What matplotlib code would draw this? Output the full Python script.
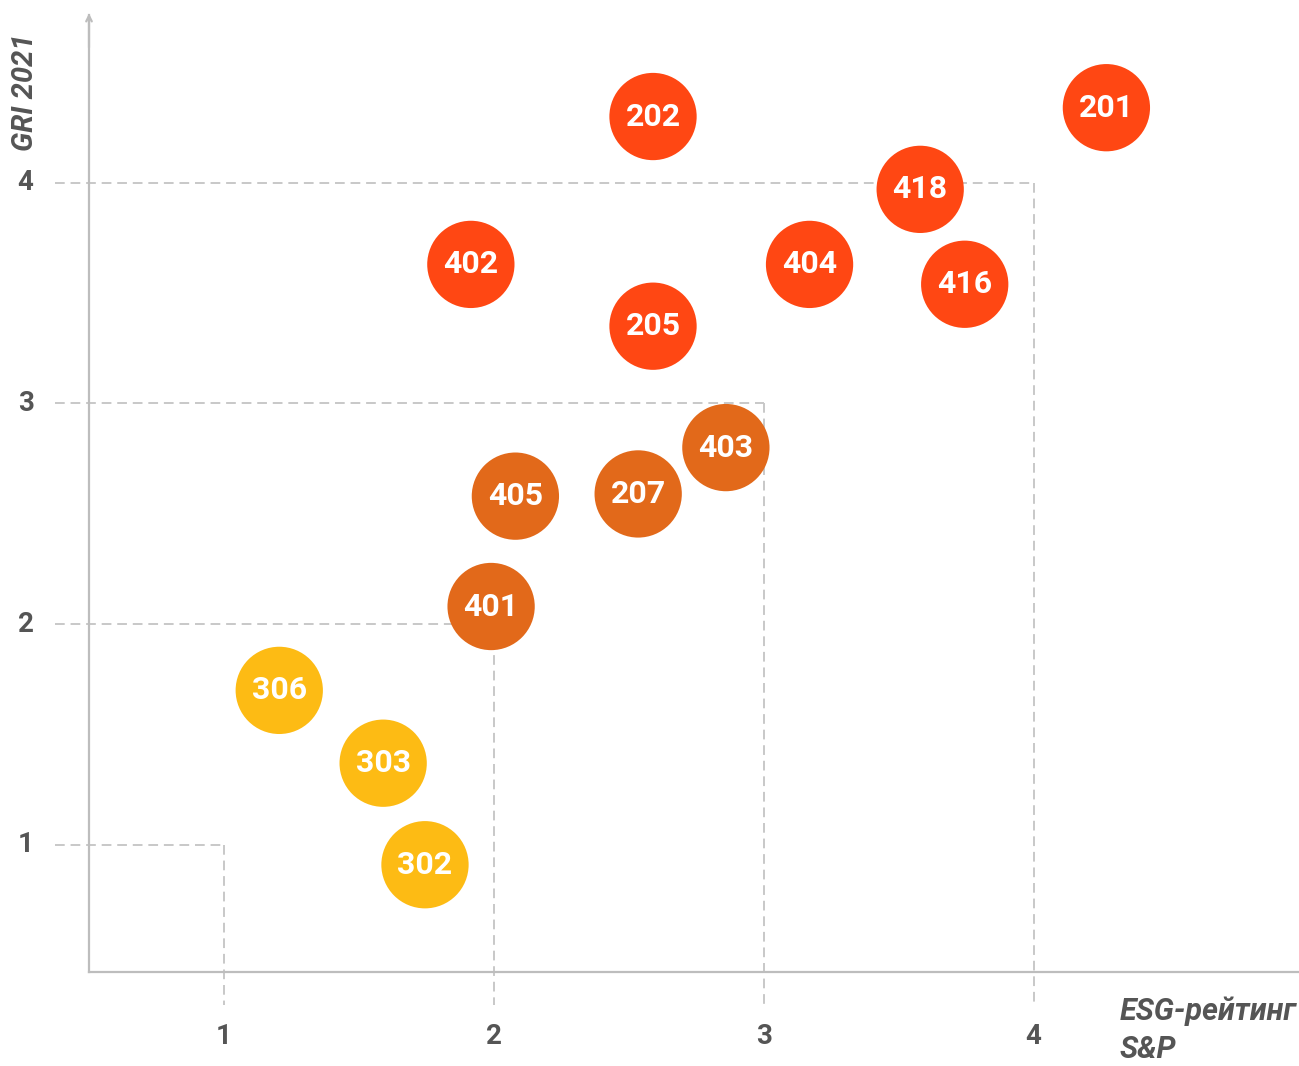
import matplotlib
matplotlib.use("Agg")
import matplotlib.pyplot as plt

plt.rcParams['font.family'] = ['Roboto', 'DejaVu Sans']

# data
labels = ["202", "201", "418", "402", "404", "416", "205",
          "403", "405", "207", "401",
          "306", "303", "302"]
esg = [2.59, 4.27, 3.58, 1.915, 3.17, 3.745, 2.59,
       2.86, 2.08, 2.535, 1.99,
       1.205, 1.59, 1.745]
gri = [4.30, 4.34, 3.97, 3.63, 3.63, 3.54, 3.35,
       2.80, 2.58, 2.59, 2.08,
       1.70, 1.37, 0.91]
groups = ["high"] * 7 + ["mid"] * 4 + ["low"] * 3
group_colors = {"high": "#FF4713", "mid": "#E2691A", "low": "#FDBB14"}
levels = [1, 2, 3, 4]

GRID = "#c8c8c8"
TXT = "#555555"

fig = plt.figure(figsize=(12.99, 10.66), dpi=100)
ax = fig.add_axes([89 / 1299, 1 - 972 / 1066, 1209 / 1299, 957 / 1066])
ax.set_xlim(0.5, 4.98)
ax.set_ylim(0.424, 4.76)

for s in ["top", "right"]:
    ax.spines[s].set_visible(False)
for s in ["left", "bottom"]:
    ax.spines[s].set_color("#bdbdbd")
    ax.spines[s].set_linewidth(1.6)

# arrow head on the y axis
ax.annotate("", xy=(0.5, 4.78), xytext=(0.5, 4.6),
            arrowprops=dict(arrowstyle="->", color="#bdbdbd", lw=1.6,
                            mutation_scale=10),
            annotation_clip=False)

# dashed level boxes
for v in levels:
    ax.plot([0.375, v], [v, v], ls=(0, (5, 3)), color=GRID, lw=1.4,
            clip_on=False, zorder=1)
    ax.plot([v, v], [v, 0.275], ls=(0, (5, 3)), color=GRID, lw=1.4,
            clip_on=False, zorder=1)

ax.set_xticks([])
ax.set_yticks([])
for v in levels:
    ax.text(v, 0.134, str(v), ha="center", va="center", fontsize=20,
            fontweight="bold", color=TXT, clip_on=False)
    ax.text(0.265, v, str(v), ha="center", va="center", fontsize=20,
            fontweight="bold", color=TXT, clip_on=False)

ax.scatter(esg, gri, s=3950, c=[group_colors[g] for g in groups],
           linewidths=0, zorder=3, clip_on=False)
for lab, x, y in zip(labels, esg, gri):
    ax.text(x, y, lab, ha="center", va="center", fontsize=23,
            fontweight="bold", color="white", zorder=4)

fig.text(25 / 1299, 1 - 92 / 1066, "GRI 2021", rotation=90, ha="center",
         va="center", fontsize=21, fontweight="bold", style="italic",
         color=TXT)
fig.text(1120 / 1299, 1 - 1011 / 1066, "ESG-рейтинг", ha="left",
         va="center", fontsize=22, fontweight="bold", style="italic",
         color=TXT)
fig.text(1120 / 1299, 1 - 1050 / 1066, "S&P", ha="left", va="center",
         fontsize=22, fontweight="bold", style="italic", color=TXT)

fig.savefig("out.png", dpi=100)
